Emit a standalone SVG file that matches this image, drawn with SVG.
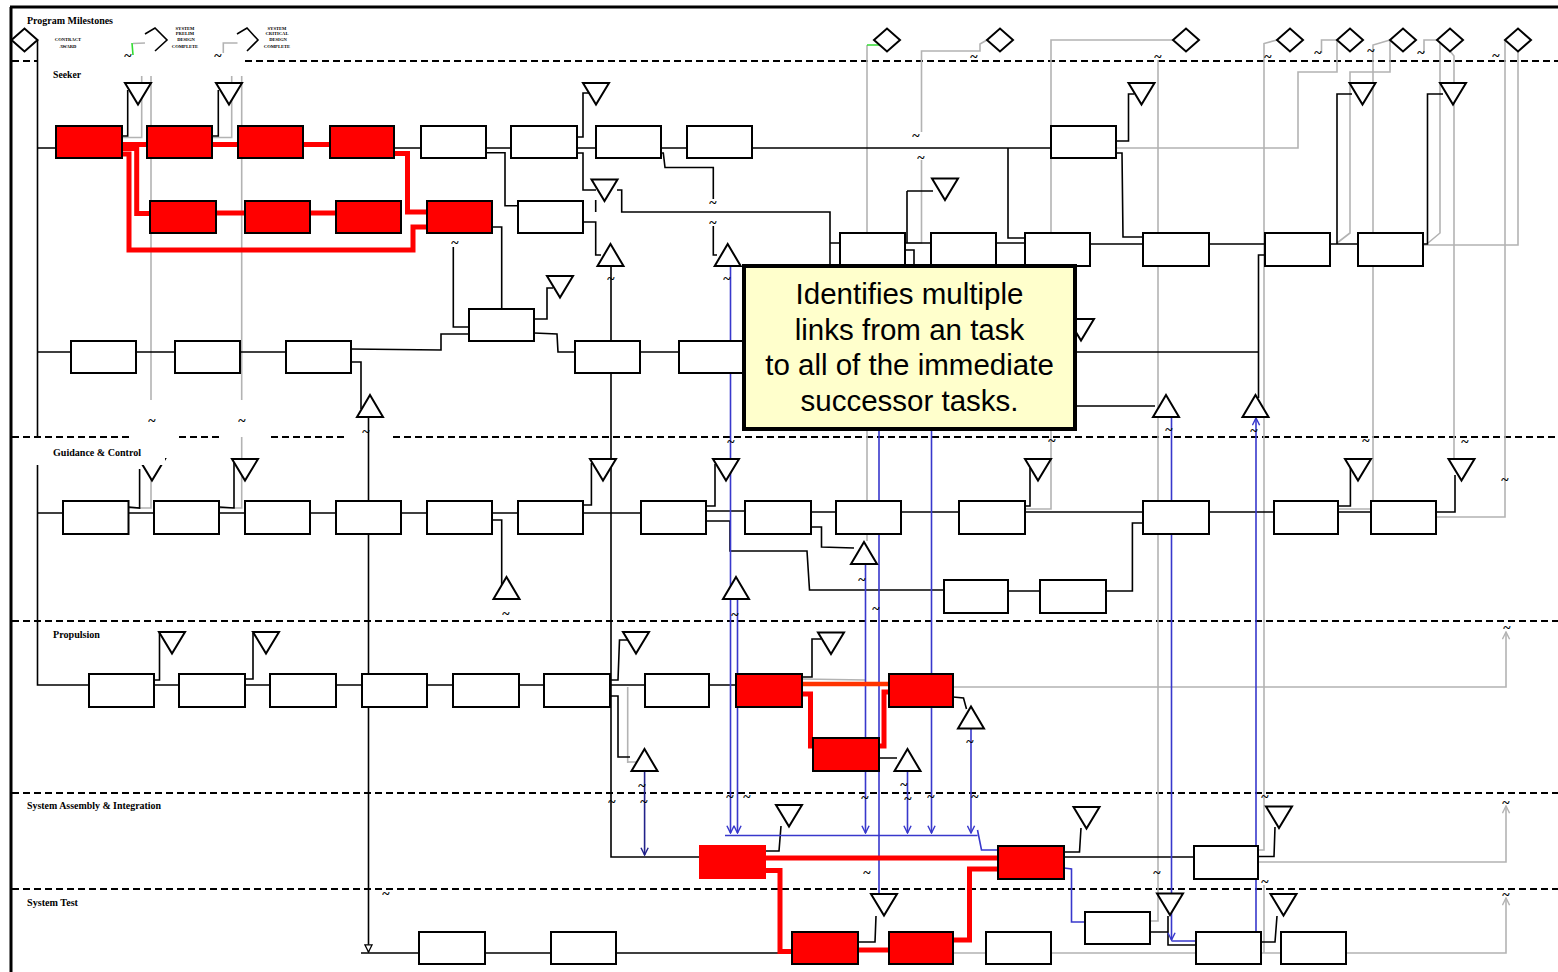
<svg xmlns="http://www.w3.org/2000/svg" width="1558" height="972" viewBox="0 0 1558 972">
<style>
.b{fill:#fff;stroke:#000;stroke-width:2}
.r{fill:#f00;stroke:#000;stroke-width:2}
.rn{fill:#f00}
.tri{fill:#fff;stroke:#000;stroke-width:2}
.k{fill:none;stroke:#000;stroke-width:1.6}
.g{fill:none;stroke:#b3b3b3;stroke-width:1.6}
.gn{fill:none;stroke:#33dd33;stroke-width:1.6}
.bl{fill:none;stroke:#3838cc;stroke-width:1.6}
.nv{fill:none;stroke:#22228a;stroke-width:1.6}
.rd{fill:none;stroke:#f00;stroke-width:5}
.or{fill:none;stroke:#ff3300;stroke-width:4.5}
.ds{fill:none;stroke:#000;stroke-width:2;stroke-dasharray:7 4}
.lab{font-family:"Liberation Serif",serif;font-weight:bold;font-size:9.5px;fill:#000}
.ms{font-family:"Liberation Serif",serif;font-weight:bold;font-size:4.6px;text-anchor:middle;fill:#000}
.tl{font-family:"Liberation Serif",serif;font-weight:bold;font-size:14px;text-anchor:middle;fill:#000}
.co{font-family:"Liberation Sans",Arial,sans-serif;font-size:29.5px;text-anchor:middle;fill:#000}
</style>
<defs>
<polygon id="dn" class="tri" points="-13,0 13,0 0,21.5"/>
<polygon id="up" class="tri" points="0,0 13,22 -13,22"/>
<polygon id="dm" class="tri" points="-13,0 0,-11.5 13,0 0,11.5"/>
<marker id="ab" viewBox="0 0 10 10" refX="9" refY="5" markerWidth="9" markerHeight="9" markerUnits="userSpaceOnUse" orient="auto"><path d="M1,1 L9,5 L1,9" fill="none" stroke="#3838cc" stroke-width="1.6"/></marker>
<marker id="an" viewBox="0 0 10 10" refX="9" refY="5" markerWidth="9" markerHeight="9" markerUnits="userSpaceOnUse" orient="auto"><path d="M1,1 L9,5 L1,9" fill="none" stroke="#22228a" stroke-width="1.6"/></marker>
<marker id="ag" viewBox="0 0 10 10" refX="9" refY="5" markerWidth="9" markerHeight="9" markerUnits="userSpaceOnUse" orient="auto"><path d="M1,1 L9,5 L1,9" fill="none" stroke="#b3b3b3" stroke-width="1.6"/></marker>
<marker id="ak" viewBox="0 0 10 10" refX="9" refY="5" markerWidth="9" markerHeight="9" markerUnits="userSpaceOnUse" orient="auto"><path d="M1,1 L9,5 L1,9 Z" fill="#fff" stroke="#000" stroke-width="1.4"/></marker>
</defs>
<rect width="1558" height="972" fill="#fff"/>

<g id="frame">
<path d="M10,7 H1558" stroke="#000" stroke-width="3"/>
<path d="M11,7 V972" stroke="#000" stroke-width="3"/>
<path class="ds" d="M12,61 H38 M245,61 H1558"/>
<path class="ds" d="M12,437 H131 M179,437 H223 M271,437 H347 M393,437 H1558"/>
<path class="ds" d="M12,621 H1558"/>
<path class="ds" d="M12,793 H1558"/>
<path class="ds" d="M12,889 H1558"/>
</g>

<g id="connectors">
<path class="g" d="M123,137.5 H141.7 V76 M151,76 V400 M151,465 V508 H128.5 M213,137.5 H231.7 V76 M241.7,76 V400 M241.7,437 V508 H219 M133,43.5 L145,43 M223.3,53 V43 H237.5 M867,45 V541 M987,40 L980,44 V51 H921.5 V132 M921.5,160 V243 H906 M1173,40 H1051 V509 H1025 M1158,60 V921 H1150 M1277,40 L1264,43.5 V850 H1258 M1264,885 V953 M1116,148 H1298 V72 H1337 V40 M1321.5,53 V40 H1337 M1390,40 V72 H1350 V233 L1337,243 M1390,40 L1373,45 V509 H1338 M1424,53 V40 H1440 V233 L1428,243 M1450,51 L1454,56 V459 M1505,40 V517 H1436 M1518,51 V245 H1423 M802,679 L866,680 M627.7,687 V763 M953,953 H986 M1051,953 H1196 M1261,953 H1281"/>
<path class="g" d="M628,762 H645" stroke-width="5"/>
<path class="g" marker-end="url(#ag)" d="M953,687 H1506 V632"/>
<path class="g" marker-end="url(#ag)" d="M1258,862 H1506 V806"/>
<path class="g" marker-end="url(#ag)" d="M1346,953 H1506 V898"/>
<path class="gn" d="M867,45 H881 M132,43 L133,55"/>

<path class="k" d="M37.5,40 V438 M37.5,465 V685 H89 M37.5,148 H56 M37.5,352 H71 M37.5,513 H63 M394,148 H421 M486,148 H511 M576,148 H596 M661,148 H687 M752,148 H1051 M122,136 H127.7 V90 M212,136 H218.3 V90 M486,152.7 H505 V205.7 H518 M577,137 H583 V93 H590 M577,153 H583 V190 H596 M595.7,200 V212 M617,190 H621.7 V212 H830 V266 M830,243 H840 M661,153 H663.3 L665,167.5 H713.3 V199 M713.3,226 V255 H717 M583,222 H595.7 V255 H601 M611,266 V857 H699 M492,227 H501.7 V309 M453.3,247 V327 H469 M534,319 H547 V288 H553 M469,334 H441 V350 L351,349 M534,333 L557,334 L558,352 H575 M640,352 H679 M136,352 H175 M240,352 H286 M351,362 H361 V409 M361,953 H419 M485,953 H551 M616,953 H792 M905,243 H931 M996,243 H1025 M1090,244 H1143 M1209,244 H1265 M1330,244 H1358 M1008,148 V238 H1025 M1116,153 H1122 L1123,237 H1143 M1116,141 H1128.5 V94 H1134 M907,191 H933 M907,191 V243 M905,250 H914 V266 M1337,244 V94 H1352 M1423,244 H1427.5 V94 H1443 M1265,255 H1258.5 V398 M1075,352 H1258.5 M1075,406 H1155"/>
<path class="k" marker-end="url(#ak)" d="M368.5,417 V952"/>
<path class="k" d="M128.5,513 H154 M219,513 H245 M310,513 H336 M401,513 H427 M492,513 H518 M583,513 H641 M706,511 H745 M811,512 H836 M901,512 H959 M1025,512 H1143 M1209,512 H1274 M1338,512 H1371 M128.5,507 L139.6,508 V469 M219,507 L234,508 V463 M492,520 H501.7 V588 M583,505 H591.4 V463 M706,506 H715 V464 M706,521 H730 V551 H807 L809.5,590 H944 M811,527 H821.5 V547 L854,548 M1025,506 H1030 V468 M1338,506 H1350.4 V468 M1436,512 H1455 V475 M1008,591 H1040 M1106,591 H1132.4 V523 H1143"/>
<path class="k" d="M154,685 H179 M245,685 H270 M336,685 H362 M427,685 H453 M519,685 H544 M610,685 H645 M709,685 H736 M154,680 H159.5 V633 M245,679 H253 V633 M610,680 H618 L619.5,640 H628 M610,696 H618 V757 H630 M802,677 H812 V639 H821 M879,758 H897 M953,697 L963.5,698 L966.5,709 M1064,857 H1194 M766,851 H779 L781,826 M1064,852 H1079.5 L1081,828 M1258,856.5 H1274 L1275,827 M858,942 H875 L876,916 M1150,932 H1168 M1168,916 V945 H1196 M1261,942 H1275 L1277,916"/>

<path class="bl" marker-end="url(#ab)" d="M730.5,266 V833"/>
<path class="bl" marker-end="url(#ab)" d="M737.5,599 V833"/>
<path class="bl" marker-end="url(#ab)" d="M865.5,565 V833"/>
<path class="bl" marker-end="url(#ab)" d="M931.5,266 V833"/>
<path class="bl" marker-end="url(#ab)" d="M907.5,771 V833"/>
<path class="bl" marker-end="url(#ab)" d="M971,728 V833"/>
<path class="bl" marker-end="url(#ab)" d="M1171.5,417 V940"/>
<path class="bl" marker-end="url(#ab)" d="M1256,932 V418"/>
<path class="bl" d="M879,266 V893 M725,835.5 H977.5 M977.5,830 L981.5,850 H998 M1171.5,941 H1196 M1064,868 L1071.5,869 V922 H1085"/>
<path class="nv" marker-end="url(#an)" d="M644.6,771 V855"/>

<path class="rd" d="M122,144.5 H147 M212,144.5 H238 M303,144.5 H330 M122,148.5 H136.7 V213.5 H150 M122,154 H129 V250 H413 V227 H427 M394,153.5 H407.5 V212 H427 M215,213 H245 M310,213 H336 M802,694 H810.5 V746 H813 M879,746 H884 V692 H889"/>
<path class="or" d="M802,684 H889"/>
<path class="rd" stroke-width="8" d="M766,858 H998"/>
<path class="rd" stroke-width="6" d="M766,870.5 H780 V951.5 H792 M953,940 H969.5 V869 H998 M858,950 H889"/>
</g>

<g id="milestones">
<g id="ms-contract"><use href="#dm" x="24.5" y="40"/><text class="ms" x="68" y="41">CONTRACT</text><text class="ms" x="68" y="47.5">AWARD</text></g>
<g id="ms-prelim"><polyline class="k" stroke-width="2" points="145,34 155,28 167,40 155,51"/><text class="ms" x="185" y="29.5">SYSTEM</text><text class="ms" x="185" y="34.5">PRELIM</text><text class="ms" x="186" y="40.5">DESIGN</text><text class="ms" x="185" y="48">COMPLETE</text></g>
<g id="ms-critical"><polyline class="k" stroke-width="2" points="237,34 247,28 258,40 247,51"/><text class="ms" x="277" y="29.5">SYSTEM</text><text class="ms" x="277" y="34.5">CRITICAL</text><text class="ms" x="278" y="40.5">DESIGN</text><text class="ms" x="277" y="48">COMPLETE</text></g>
<g id="ms-1"><use href="#dm" x="887" y="40"/></g>
<g id="ms-2"><use href="#dm" x="1000" y="40"/></g>
<g id="ms-3"><use href="#dm" x="1186" y="40"/></g>
<g id="ms-4"><use href="#dm" x="1290" y="40"/></g>
<g id="ms-5"><use href="#dm" x="1350" y="40"/></g>
<g id="ms-6"><use href="#dm" x="1403" y="40"/></g>
<g id="ms-7"><use href="#dm" x="1450" y="40"/></g>
<g id="ms-8"><use href="#dm" x="1518" y="40"/></g>
</g>

<g id="seeker">
<g id="sk-a1"><rect class="r" x="56" y="126" width="66" height="32"/></g>
<g id="sk-a2"><rect class="r" x="147" y="126" width="65" height="32"/></g>
<g id="sk-a3"><rect class="r" x="238" y="126" width="65" height="32"/></g>
<g id="sk-a4"><rect class="r" x="330" y="126" width="64" height="32"/></g>
<g id="sk-a5"><rect class="b" x="421" y="126" width="65" height="32"/></g>
<g id="sk-a6"><rect class="b" x="511" y="126" width="66" height="32"/></g>
<g id="sk-a7"><rect class="b" x="596" y="126" width="65" height="32"/></g>
<g id="sk-a8"><rect class="b" x="687" y="126" width="65" height="32"/></g>
<g id="sk-a9"><rect class="b" x="1051" y="126" width="65" height="32"/></g>
<g id="sk-b1"><rect class="r" x="150" y="201" width="66" height="32"/></g>
<g id="sk-b2"><rect class="r" x="245" y="201" width="65" height="32"/></g>
<g id="sk-b3"><rect class="r" x="336" y="201" width="65" height="32"/></g>
<g id="sk-b4"><rect class="r" x="427" y="201" width="65" height="32"/></g>
<g id="sk-b5"><rect class="b" x="518" y="201" width="65" height="32"/></g>
<g id="sk-c1"><rect class="b" x="840" y="233" width="65" height="33"/></g>
<g id="sk-c2"><rect class="b" x="931" y="233" width="65" height="33"/></g>
<g id="sk-c3"><rect class="b" x="1025" y="233" width="65" height="33"/></g>
<g id="sk-c4"><rect class="b" x="1143" y="233" width="66" height="33"/></g>
<g id="sk-c5"><rect class="b" x="1265" y="233" width="65" height="33"/></g>
<g id="sk-c6"><rect class="b" x="1358" y="233" width="65" height="33"/></g>
<g id="sk-d1"><rect class="b" x="469" y="309" width="65" height="32"/></g>
<g id="sk-e1"><rect class="b" x="71" y="341" width="65" height="32"/></g>
<g id="sk-e2"><rect class="b" x="175" y="341" width="65" height="32"/></g>
<g id="sk-e3"><rect class="b" x="286" y="341" width="65" height="32"/></g>
<g id="sk-e4"><rect class="b" x="575" y="341" width="65" height="32"/></g>
<g id="sk-e5"><rect class="b" x="679" y="341" width="65" height="32"/></g>
<g id="sk-t1"><use href="#dn" x="138" y="83"/></g>
<g id="sk-t2"><use href="#dn" x="229" y="83"/></g>
<g id="sk-t3"><use href="#dn" x="596" y="83"/></g>
<g id="sk-t4"><use href="#dn" x="1141.5" y="83"/></g>
<g id="sk-t5"><use href="#dn" x="1362.5" y="83"/></g>
<g id="sk-t6"><use href="#dn" x="1453" y="83"/></g>
<g id="sk-t7"><use href="#dn" x="604.5" y="179.5"/></g>
<g id="sk-t8"><use href="#dn" x="945" y="178.5"/></g>
<g id="sk-t9"><use href="#dn" x="560" y="276"/></g>
<g id="sk-t10"><use href="#dn" x="1081" y="319"/></g>
<g id="sk-u1"><use href="#up" x="610.5" y="244"/></g>
<g id="sk-u2"><use href="#up" x="727.7" y="244"/></g>
<g id="sk-u3"><use href="#up" x="370" y="395"/></g>
<g id="sk-u4"><use href="#up" x="1166" y="395"/></g>
<g id="sk-u5"><use href="#up" x="1255.5" y="395"/></g>
</g>

<g id="guidance">
<g id="gc-t1"><use href="#dn" x="152" y="459"/></g>
<rect x="36" y="439" width="129" height="26" fill="#fff"/>
<g id="gc-1"><rect class="b" x="63" y="501" width="65.5" height="33"/></g>
<g id="gc-2"><rect class="b" x="154" y="501" width="65" height="33"/></g>
<g id="gc-3"><rect class="b" x="245" y="501" width="65" height="33"/></g>
<g id="gc-4"><rect class="b" x="336" y="501" width="65" height="33"/></g>
<g id="gc-5"><rect class="b" x="427" y="501" width="65" height="33"/></g>
<g id="gc-6"><rect class="b" x="518" y="501" width="65" height="33"/></g>
<g id="gc-7"><rect class="b" x="641" y="501" width="65" height="33"/></g>
<g id="gc-8"><rect class="b" x="745" y="501" width="66" height="33"/></g>
<g id="gc-9"><rect class="b" x="836" y="501" width="65" height="33"/></g>
<g id="gc-10"><rect class="b" x="959" y="501" width="66" height="33"/></g>
<g id="gc-11"><rect class="b" x="1143" y="501" width="66" height="33"/></g>
<g id="gc-12"><rect class="b" x="1274" y="501" width="64" height="33"/></g>
<g id="gc-13"><rect class="b" x="1371" y="501" width="65" height="33"/></g>
<g id="gc-14"><rect class="b" x="944" y="580" width="64" height="33"/></g>
<g id="gc-15"><rect class="b" x="1040" y="580" width="66" height="33"/></g>
<g id="gc-t2"><use href="#dn" x="245" y="459"/></g>
<g id="gc-t3"><use href="#dn" x="603" y="459"/></g>
<g id="gc-t4"><use href="#dn" x="726" y="459"/></g>
<g id="gc-t5"><use href="#dn" x="1038" y="459"/></g>
<g id="gc-t6"><use href="#dn" x="1358" y="459"/></g>
<g id="gc-t7"><use href="#dn" x="1461.5" y="459"/></g>
<g id="gc-u1"><use href="#up" x="506.5" y="577"/></g>
<g id="gc-u2"><use href="#up" x="736" y="577"/></g>
<g id="gc-u3"><use href="#up" x="864" y="542"/></g>
</g>

<g id="propulsion">
<g id="pr-1"><rect class="b" x="89" y="674" width="65" height="33"/></g>
<g id="pr-2"><rect class="b" x="179" y="674" width="66" height="33"/></g>
<g id="pr-3"><rect class="b" x="270" y="674" width="66" height="33"/></g>
<g id="pr-4"><rect class="b" x="362" y="674" width="65" height="33"/></g>
<g id="pr-5"><rect class="b" x="453" y="674" width="66" height="33"/></g>
<g id="pr-6"><rect class="b" x="544" y="674" width="66" height="33"/></g>
<g id="pr-7"><rect class="b" x="645" y="674" width="64" height="33"/></g>
<g id="pr-8"><rect class="r" x="736" y="674" width="66" height="33"/></g>
<g id="pr-9"><rect class="r" x="889" y="674" width="64" height="33"/></g>
<g id="pr-10"><rect class="r" x="813" y="738" width="66" height="33"/></g>
<g id="pr-t1"><use href="#dn" x="172" y="632"/></g>
<g id="pr-t2"><use href="#dn" x="266" y="632"/></g>
<g id="pr-t3"><use href="#dn" x="636" y="632"/></g>
<g id="pr-t4"><use href="#dn" x="831" y="632.5"/></g>
<g id="pr-u1"><use href="#up" x="644.5" y="749"/></g>
<g id="pr-u2"><use href="#up" x="907.5" y="749"/></g>
<g id="pr-u3"><use href="#up" x="971" y="706.5"/></g>
</g>

<g id="assembly">
<g id="sa-1"><rect class="rn" x="699" y="845" width="67" height="34"/></g>
<g id="sa-2"><rect class="r" x="998" y="846" width="66" height="33"/></g>
<g id="sa-3"><rect class="b" x="1194" y="846" width="64" height="33"/></g>
<g id="sa-t1"><use href="#dn" x="789" y="805"/></g>
<g id="sa-t2"><use href="#dn" x="1086.5" y="807"/></g>
<g id="sa-t3"><use href="#dn" x="1279" y="806.5"/></g>
</g>

<g id="systest">
<g id="st-1"><rect class="b" x="419" y="932" width="66" height="32"/></g>
<g id="st-2"><rect class="b" x="551" y="932" width="65" height="32"/></g>
<g id="st-3"><rect class="r" x="792" y="932" width="66" height="32"/></g>
<g id="st-4"><rect class="r" x="889" y="932" width="64" height="32"/></g>
<g id="st-5"><rect class="b" x="986" y="932" width="65" height="32"/></g>
<g id="st-6"><rect class="b" x="1085" y="912" width="65" height="32"/></g>
<g id="st-7"><rect class="b" x="1196" y="932" width="65" height="32"/></g>
<g id="st-8"><rect class="b" x="1281" y="932" width="65" height="32"/></g>
<g id="st-t1"><use href="#dn" x="884" y="894"/></g>
<g id="st-t2"><use href="#dn" x="1170" y="893.5"/></g>
<g id="st-t3"><use href="#dn" x="1283.5" y="894"/></g>
</g>

<g id="labels">
<text class="lab" x="27" y="24" textLength="86" lengthAdjust="spacingAndGlyphs">Program Milestones</text>
<text class="lab" x="53" y="78" textLength="28" lengthAdjust="spacingAndGlyphs">Seeker</text>
<text class="lab" x="53" y="456" textLength="88" lengthAdjust="spacingAndGlyphs">Guidance &amp; Control</text>
<text class="lab" x="53" y="638" textLength="47" lengthAdjust="spacingAndGlyphs">Propulsion</text>
<text class="lab" x="27" y="809" textLength="134" lengthAdjust="spacingAndGlyphs">System Assembly &amp; Integration</text>
<text class="lab" x="27" y="906" textLength="51" lengthAdjust="spacingAndGlyphs">System Test</text>
</g>

<g id="breaks" transform="translate(0,1.5)">
<text class="tl" x="128" y="59">~</text><text class="tl" x="218" y="59">~</text><text class="tl" x="974" y="60">~</text><text class="tl" x="1158" y="60">~</text><text class="tl" x="1268" y="60">~</text><text class="tl" x="1318" y="56">~</text><text class="tl" x="1371" y="54">~</text><text class="tl" x="1421" y="56">~</text><text class="tl" x="1496" y="59">~</text>
<text class="tl" x="916" y="139">~</text><text class="tl" x="921" y="161">~</text><text class="tl" x="713" y="206">~</text><text class="tl" x="713" y="226">~</text><text class="tl" x="455" y="246">~</text><text class="tl" x="611" y="282">~</text><text class="tl" x="727" y="282">~</text>
<text class="tl" x="152" y="424">~</text><text class="tl" x="242" y="424">~</text><text class="tl" x="366" y="435">~</text><text class="tl" x="731" y="445">~</text><text class="tl" x="1052" y="444">~</text><text class="tl" x="1169" y="433">~</text><text class="tl" x="1254" y="434">~</text><text class="tl" x="1366" y="444">~</text><text class="tl" x="1465" y="445">~</text><text class="tl" x="1505" y="483">~</text>
<text class="tl" x="506" y="617">~</text><text class="tl" x="862" y="583">~</text><text class="tl" x="876" y="612">~</text><text class="tl" x="735" y="618">~</text><text class="tl" x="1507" y="631">~</text>
<text class="tl" x="970" y="745">~</text><text class="tl" x="642" y="789">~</text><text class="tl" x="904" y="788">~</text><text class="tl" x="644" y="805">~</text><text class="tl" x="612" y="805">~</text><text class="tl" x="730" y="800">~</text><text class="tl" x="747" y="800">~</text><text class="tl" x="865" y="801">~</text><text class="tl" x="908" y="802">~</text><text class="tl" x="931" y="800">~</text><text class="tl" x="975" y="800">~</text><text class="tl" x="1265" y="800">~</text><text class="tl" x="1506" y="806">~</text>
<text class="tl" x="867" y="876">~</text><text class="tl" x="1157" y="876">~</text><text class="tl" x="1265" y="885">~</text><text class="tl" x="1506" y="898">~</text><text class="tl" x="386" y="897">~</text>
</g>

<g id="callout">
<rect x="744" y="266" width="331" height="163" fill="#ffffcc" stroke="#000" stroke-width="4"/>
<text class="co" x="909.5" y="304">Identifies multiple</text>
<text class="co" x="909.5" y="339.5">links from an task</text>
<text class="co" x="909.5" y="375">to all of the immediate</text>
<text class="co" x="909.5" y="410.5">successor tasks.</text>
</g>
</svg>
